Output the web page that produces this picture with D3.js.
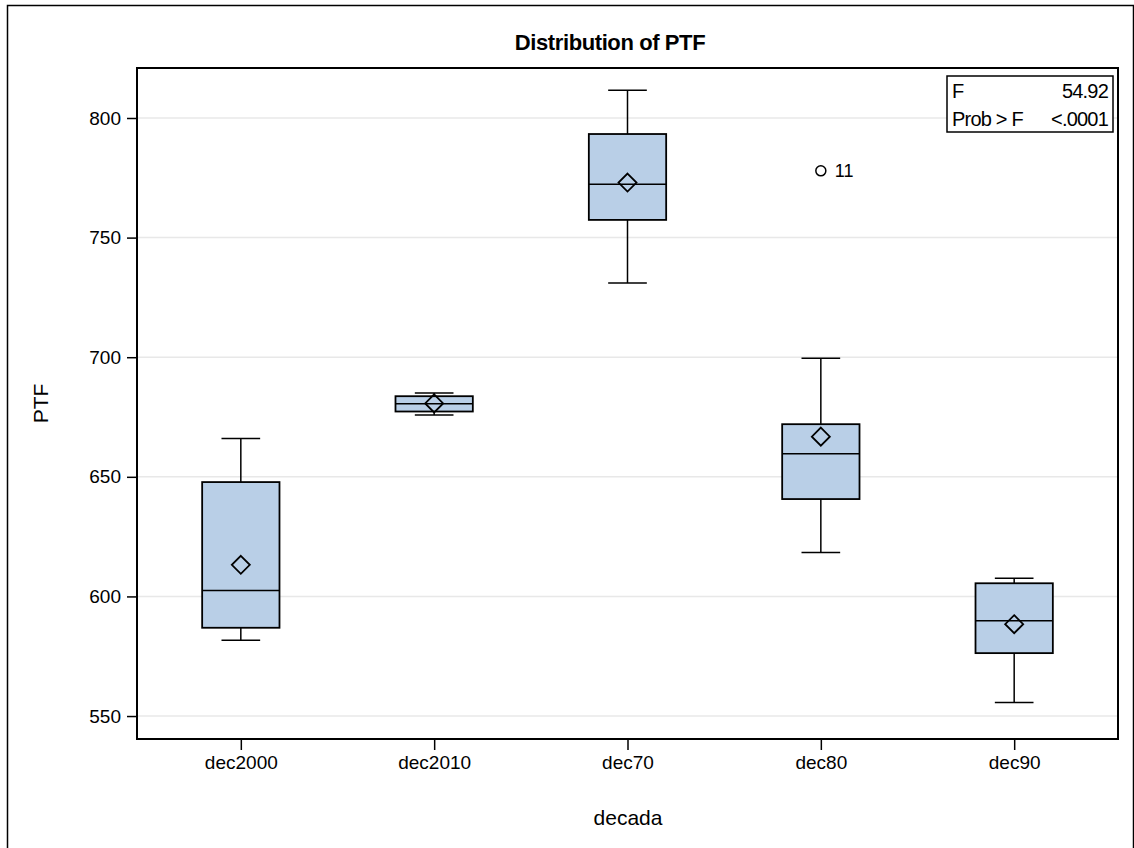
<!DOCTYPE html>
<html>
<head>
<meta charset="utf-8">
<script src="https://cdn.jsdelivr.net/npm/d3@7.9.0/dist/d3.min.js"></script>
<style>
  body { margin: 0; background: #fff; }
  text { font-family: "Liberation Sans", Arial, sans-serif; fill: #000; }
</style>
</head>
<body>
<svg id="chart" width="1134" height="848"></svg>
<script>
const width = 1134;
const height = 848;
const margin = { top: 68, right: 15, bottom: 109, left: 137 };

// values
const categories = ["dec2000", "dec2010", "dec70", "dec80", "dec90"];
const whiskerLow = [581.7, 675.8, 731.0, 618.4, 555.7];
const q1 = [586.9, 677.3, 757.4, 640.7, 576.3];
const medians = [602.5, 680.5, 772.3, 659.6, 589.8];
const q3 = [647.8, 683.7, 793.3, 672.0, 605.5];
const whiskerHigh = [666.0, 685.0, 811.6, 699.6, 607.6];
const means = [613.2, 680.7, 773.0, 666.8, 588.4];
const outlierCats = ["dec80"];
const outlierValues = [777.9];
const outlierLabels = ["11"];
const yTicks = [550, 600, 650, 700, 750, 800];
const statLabels = ["F", "Prob > F"];
const statValues = ["54.92", "<.0001"];

const boxes = categories.map((c, i) => ({
  cat: c, lo: whiskerLow[i], q1: q1[i], med: medians[i], q3: q3[i], hi: whiskerHigh[i], mean: means[i]
}));

const svg = d3.select("#chart");

// outer frame
svg.append("rect")
  .attr("x", 7.5).attr("y", 5.5)
  .attr("width", 1126).attr("height", 850)
  .attr("fill", "none").attr("stroke", "#000").attr("stroke-width", 1.5);

const x = d3.scalePoint()
  .domain(categories)
  .range([margin.left, width - margin.right - 1])
  .padding(0.537);

const y = d3.scaleLinear()
  .domain([540.4, 820.9])
  .range([height - margin.bottom, margin.top]);

const step = x.step();
const boxW = step * 0.4;
const capW = step * 0.2;

// grid
svg.append("g")
  .selectAll("line")
  .data(yTicks)
  .join("line")
  .attr("x1", margin.left).attr("x2", width - margin.right - 1)
  .attr("y1", d => y(d)).attr("y2", d => y(d))
  .attr("stroke", "#e8e8e8").attr("stroke-width", 1.5);

// axes
const yAxis = svg.append("g")
  .attr("transform", `translate(${margin.left},0)`)
  .call(d3.axisLeft(y).tickValues(yTicks).tickSize(10).tickPadding(6));
const xAxis = svg.append("g")
  .attr("transform", `translate(0,${height - margin.bottom})`)
  .call(d3.axisBottom(x).tickSize(11).tickPadding(6));

[yAxis, xAxis].forEach(g => {
  g.select(".domain").remove();
  g.selectAll(".tick line").attr("stroke", "#000").attr("stroke-width", 1.5);
  g.selectAll(".tick text").attr("font-size", 19).attr("font-family", "Liberation Sans, Arial, sans-serif").attr("fill", "#000");
});

// boxes
const g = svg.append("g");
const bx = g.selectAll("g.box").data(boxes).join("g").attr("class", "box");

bx.append("line")
  .attr("x1", d => x(d.cat)).attr("x2", d => x(d.cat))
  .attr("y1", d => y(d.hi)).attr("y2", d => y(d.lo))
  .attr("stroke", "#000").attr("stroke-width", 1.5);
bx.append("line")
  .attr("x1", d => x(d.cat) - capW / 2).attr("x2", d => x(d.cat) + capW / 2)
  .attr("y1", d => y(d.hi)).attr("y2", d => y(d.hi))
  .attr("stroke", "#000").attr("stroke-width", 1.5);
bx.append("line")
  .attr("x1", d => x(d.cat) - capW / 2).attr("x2", d => x(d.cat) + capW / 2)
  .attr("y1", d => y(d.lo)).attr("y2", d => y(d.lo))
  .attr("stroke", "#000").attr("stroke-width", 1.5);
bx.append("rect")
  .attr("x", d => x(d.cat) - boxW / 2)
  .attr("y", d => y(d.q3))
  .attr("width", boxW)
  .attr("height", d => y(d.q1) - y(d.q3))
  .attr("fill", "#b9cfe7").attr("stroke", "#000").attr("stroke-width", 1.8);
bx.append("line")
  .attr("x1", d => x(d.cat) - boxW / 2).attr("x2", d => x(d.cat) + boxW / 2)
  .attr("y1", d => y(d.med)).attr("y2", d => y(d.med))
  .attr("stroke", "#000").attr("stroke-width", 1.5);
// mean diamond
bx.append("path")
  .attr("d", d => {
    const cx = x(d.cat), cy = y(d.mean), r = 9;
    return `M${cx},${cy - r}L${cx + r},${cy}L${cx},${cy + r}L${cx - r},${cy}Z`;
  })
  .attr("fill", "none").attr("stroke", "#000").attr("stroke-width", 1.8);

// outliers
outlierValues.forEach((v, i) => {
  svg.append("circle")
    .attr("cx", x(outlierCats[i])).attr("cy", y(v)).attr("r", 5)
    .attr("fill", "none").attr("stroke", "#000").attr("stroke-width", 1.5);
  svg.append("text")
    .attr("x", x(outlierCats[i]) + 14).attr("y", y(v))
    .attr("dy", "0.35em").attr("font-size", 18)
    .text(outlierLabels[i]);
});

// plot frame
svg.append("rect")
  .attr("x", margin.left).attr("y", margin.top)
  .attr("width", width - margin.right - 1 - margin.left)
  .attr("height", height - margin.bottom - margin.top)
  .attr("fill", "none").attr("stroke", "#000").attr("stroke-width", 2);

// stats box
svg.append("rect")
  .attr("x", 947).attr("y", 76).attr("width", 166).attr("height", 56)
  .attr("fill", "#fff").attr("stroke", "#000").attr("stroke-width", 1.5);
statLabels.forEach((s, i) => {
  svg.append("text").attr("x", 952).attr("y", 91 + i * 28).attr("dy", "0.35em")
    .attr("font-size", 20).attr("letter-spacing", -0.8).text(s);
  svg.append("text").attr("x", 1108).attr("y", 91 + i * 28).attr("dy", "0.35em")
    .attr("text-anchor", "end").attr("font-size", 20).attr("letter-spacing", -0.8).text(statValues[i]);
});

// titles
svg.append("text")
  .attr("x", 610).attr("y", 42).attr("dy", "0.35em")
  .attr("text-anchor", "middle").attr("font-size", 22).attr("font-weight", "bold")
  .attr("letter-spacing", -0.4)
  .text("Distribution of PTF");

svg.append("text")
  .attr("x", (margin.left + width - margin.right) / 2).attr("y", 818).attr("dy", "0.35em")
  .attr("text-anchor", "middle").attr("font-size", 21)
  .text("decada");

svg.append("text")
  .attr("transform", `translate(41,${(margin.top + height - margin.bottom) / 2}) rotate(-90)`)
  .attr("dy", "0.35em")
  .attr("text-anchor", "middle").attr("font-size", 21)
  .text("PTF");
</script>
</body>
</html>
